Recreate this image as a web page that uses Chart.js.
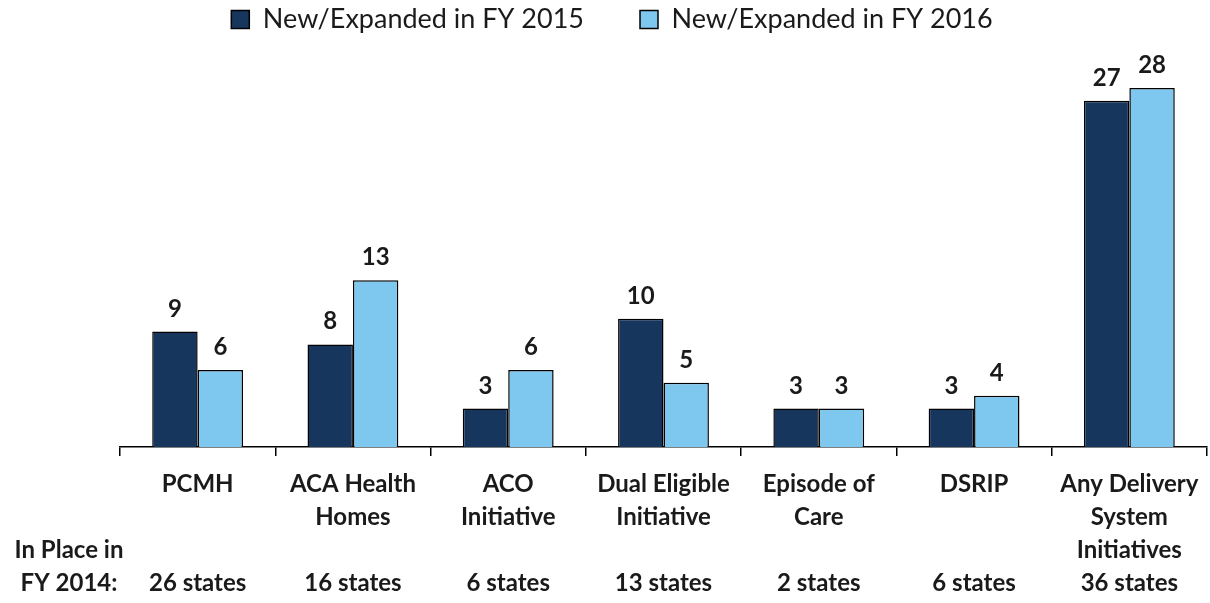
<!DOCTYPE html>
<html><head><meta charset="utf-8">
<script src="https://cdn.jsdelivr.net/npm/chart.js@4/dist/chart.umd.min.js"></script>
<style>html,body{margin:0;padding:0;background:#fff}#wrap{width:1210px;height:603px}</style>
</head><body><div id="wrap"><canvas id="c" width="1210" height="603"></canvas></div>
<script>
const categories = [
  ["PCMH"],
  ["ACA Health","Homes"],
  ["ACO","Initiative"],
  ["Dual Eligible","Initiative"],
  ["Episode of","Care"],
  ["DSRIP"],
  ["Any Delivery","System","Initiatives"]
];
const inPlaceFY2014 = ["26 states","16 states","6 states","13 states","2 states","6 states","36 states"];
const fy2015 = [9, 8, 3, 10, 3, 3, 27];
const fy2016 = [6, 13, 6, 5, 3, 4, 28];
const seriesNames = ["New/Expanded in FY 2015", "New/Expanded in FY 2016"];
const rowTitle = ["In Place in", "FY 2014:"];

const FONT = "Lato, 'Open Sans', sans-serif";
const TICK_LEN = 9, TICK_PAD = 11.5, LINE_H = 33;
const labels = categories.map((c, i) => {
  const lines = c.slice();
  while (lines.length < 3) lines.push("");
  lines.push(inPlaceFY2014[i]);
  return lines;
});

const valueLabels = {
  id: 'valueLabels',
  afterDatasetsDraw(chart) {
    const ctx = chart.ctx;
    ctx.save();
    ctx.font = "bold 24px " + FONT;
    ctx.fillStyle = "#1a1a1a";
    ctx.textAlign = "center";
    ctx.textBaseline = "alphabetic";
    chart.data.datasets.forEach((ds, di) => {
      chart.getDatasetMeta(di).data.forEach((bar, i) => {
        ctx.fillText(String(ds.data[i]), bar.x, bar.y - 15);
      });
    });
    ctx.restore();
  }
};
const rowTitlePlugin = {
  id: 'rowTitle',
  afterDraw(chart) {
    const ctx = chart.ctx;
    const x = chart.scales.x;
    ctx.save();
    ctx.font = "bold 24px " + FONT;
    ctx.fillStyle = "#1a1a1a";
    ctx.textAlign = "center";
    ctx.textBaseline = "middle";
    const first = x.top + TICK_LEN + TICK_PAD + LINE_H / 2;
    ctx.fillText(rowTitle[0], 69, first + LINE_H * 2);
    ctx.fillText(rowTitle[1], 69, first + LINE_H * 3);
    ctx.restore();
  }
};

new Chart(document.getElementById('c'), {
  type: 'bar',
  data: {
    labels: labels,
    datasets: [
      { label: seriesNames[0], data: fy2015, backgroundColor: '#17365d', borderColor: '#000', borderWidth: 1.5, borderSkipped: 'bottom' },
      { label: seriesNames[1], data: fy2016, backgroundColor: '#7ec8ef', borderColor: '#000', borderWidth: 1.5, borderSkipped: 'bottom' }
    ]
  },
  options: {
    responsive: false,
    animation: false,
    layout: { padding: { left: 16, right: 2, top: -50, bottom: -8 } },
    datasets: { bar: { categoryPercentage: 0.585, barPercentage: 1.0 } },
    plugins: {
      legend: {
        position: 'top',
        labels: {
          font: { family: FONT, size: 27 },
          color: '#1a1a1a',
          boxWidth: 18, boxHeight: 18,
          padding: 56
        }
      },
      tooltip: { enabled: false }
    },
    scales: {
      x: {
        offset: true,
        grid: { display: true, offset: true, drawOnChartArea: false, drawTicks: true, tickLength: TICK_LEN, color: '#000', lineWidth: 1.5 },
        border: { display: true, color: '#000', width: 1.5 },
        ticks: { font: { family: FONT, size: 24, weight: 'bold', lineHeight: LINE_H / 24 }, color: '#1a1a1a', padding: TICK_PAD, maxRotation: 0, autoSkip: false }
      },
      y: {
        display: true,
        min: 0, max: 31.5,
        ticks: { display: false },
        grid: { display: false },
        border: { display: false },
        afterFit(scale) { scale.width = 104; }
      }
    }
  },
  plugins: [valueLabels, rowTitlePlugin]
});
</script>
</body></html>
